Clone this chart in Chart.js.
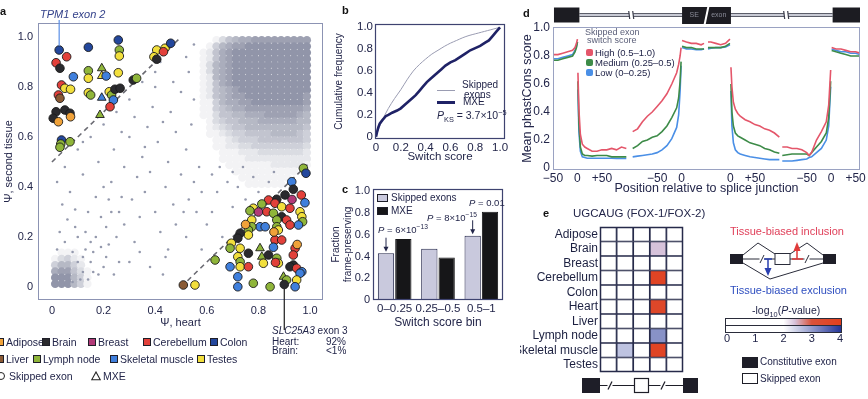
<!DOCTYPE html>
<html>
<head>
<meta charset="utf-8">
<script src="https://cdn.jsdelivr.net/npm/chart.js@4.4.1/dist/chart.umd.min.js"></script>
<style>
  body { margin: 0; width: 868px; height: 399px; overflow: hidden; position: relative; background: #fff;
         font-family: "Liberation Sans", Arial, sans-serif; color: #23264a; }
  canvas { position: absolute; }
  .t { position: absolute; white-space: nowrap; line-height: 1; }
  .sq { position: absolute; width: 8px; height: 8px; border: 1px solid #1e1e28; box-sizing: border-box; }
  .lab { position: absolute; font-weight: bold; font-size: 11px; line-height: 1; color: #111; }
  sub, sup { font-size: 70%; line-height: 0; }
</style>
</head>
<body>

<canvas id="chartA" width="340" height="340" style="left:0;top:0"></canvas>
<canvas id="chartB" width="195" height="165" style="left:330px;top:0"></canvas>
<canvas id="chartC" width="195" height="175" style="left:330px;top:160px"></canvas>
<canvas id="chartD" width="348" height="199" style="left:520px;top:0"></canvas>
<canvas id="chartE" width="348" height="194" style="left:520px;top:205px"></canvas>

<!-- panel letters -->
<div class="lab" style="left:0;top:6px">a</div>
<div class="lab" style="left:342px;top:5px">b</div>
<div class="lab" style="left:342px;top:184px">c</div>
<div class="lab" style="left:523px;top:8px">d</div>
<div class="lab" style="left:543px;top:208px">e</div>

<!-- panel a texts -->
<div class="t" style="left:40px;top:9px;font-size:11px;font-style:italic;color:#33418a">TPM1 exon 2</div>
<div id="legendA"></div>
<div style="position:absolute;left:-3px;top:372px;width:8px;height:8px;border:1.2px solid #222;border-radius:50%;box-sizing:border-box;background:#fff"></div>
<div class="t" style="left:9px;top:371px;font-size:10.5px">Skipped exon</div>
<svg style="position:absolute;left:91px;top:371px" width="10" height="10"><polygon points="5,1 9.3,8.8 0.7,8.8" fill="#fff" stroke="#222" stroke-width="1.1"/></svg>
<div class="t" style="left:103px;top:371px;font-size:10.5px">MXE</div>
<div class="t" style="left:272px;top:326px;font-size:10px"><i>SLC25A3</i> exon 3</div>
<div class="t" style="left:272px;top:336.5px;font-size:10px">Heart:</div>
<div class="t" style="left:326px;top:336.5px;font-size:10px">92%</div>
<div class="t" style="left:272px;top:346px;font-size:10px">Brain:</div>
<div class="t" style="left:326px;top:346px;font-size:10px">&lt;1%</div>

<!-- panel b texts -->
<div style="position:absolute;left:437px;top:90px;width:18px;height:1px;background:#9a9cb2"></div>
<div class="t" style="left:462px;top:80px;font-size:10px">Skipped</div>
<div class="t" style="left:464px;top:89.5px;font-size:10px">exons</div>
<div style="position:absolute;left:437px;top:100.5px;width:18px;height:3px;background:#1f2266"></div>
<div class="t" style="left:463px;top:97px;font-size:10px">MXE</div>
<div class="t" style="left:437px;top:110px;font-size:10.5px"><i>P</i><sub>KS</sub> = 3.7×10<sup>−5</sup></div>

<!-- panel c texts -->
<div class="sq" style="left:377px;top:194px;width:11px;height:8px;background:#c9c9dd"></div>
<div class="t" style="left:391px;top:193px;font-size:10px">Skipped exons</div>
<div class="sq" style="left:377px;top:207px;width:11px;height:8px;background:#161618"></div>
<div class="t" style="left:391px;top:206px;font-size:10px">MXE</div>
<div class="t" style="left:378px;top:225px;font-size:9.5px"><i>P</i> = 6×10<sup>−13</sup></div>
<div class="t" style="left:427px;top:213px;font-size:9.5px"><i>P</i> = 8×10<sup>−15</sup></div>
<div class="t" style="left:469px;top:198px;font-size:9.5px"><i>P</i> = 0.01</div>

<!-- panel d legend -->
<div class="t" style="left:585px;top:28px;font-size:9px;color:#5a5e78">Skipped exon</div>
<div class="t" style="left:587px;top:36px;font-size:9px;color:#5a5e78">switch score</div>
<div style="position:absolute;left:586px;top:48.5px;width:7px;height:7px;border-radius:2px;background:#e4566a"></div>
<div class="t" style="left:595px;top:47.5px;font-size:9.5px">High (0.5–1.0)</div>
<div style="position:absolute;left:586px;top:58.5px;width:7px;height:7px;border-radius:2px;background:#3d8b48"></div>
<div class="t" style="left:595px;top:57.5px;font-size:9.5px">Medium (0.25–0.5)</div>
<div style="position:absolute;left:586px;top:68.5px;width:7px;height:7px;border-radius:2px;background:#4a8fe6"></div>
<div class="t" style="left:595px;top:67.5px;font-size:9.5px">Low (0–0.25)</div>

<!-- panel e texts -->
<div class="t" style="left:573px;top:208px;font-size:11.5px">UGCAUG (FOX-1/FOX-2)</div>
<div class="t" style="left:730px;top:225.5px;font-size:11px;color:#e0405a">Tissue-biased inclusion</div>
<div class="t" style="left:730px;top:284.5px;font-size:11px;color:#2f4fc0">Tissue-biased exclusion</div>
<div class="t" style="left:752px;top:304.5px;font-size:10.5px">-log<sub>10</sub>(<i>P</i>-value)</div>
<div class="sq" style="left:742px;top:357px;width:16px;height:11px;background:#1e1e28"></div>
<div class="t" style="left:760px;top:357px;font-size:10px">Constitutive exon</div>
<div class="sq" style="left:742px;top:373px;width:16px;height:11px;background:#fff"></div>
<div class="t" style="left:760px;top:374px;font-size:10px">Skipped exon</div>

<script>
Chart.defaults.font.family = '"Liberation Sans", Arial, sans-serif';
Chart.defaults.color = '#23264a';
Chart.defaults.animation = false;
Chart.defaults.responsive = false;
Chart.defaults.plugins.legend.display = false;
Chart.defaults.plugins.tooltip.enabled = false;


// ---------- panel a : psi heart vs psi second tissue ----------

const tissues = ['Adipose', 'Brain', 'Breast', 'Cerebellum', 'Colon',
                 'Liver', 'Lymph node', 'Skeletal muscle', 'Testes'];
const tissueColors = ['#f0a23a', '#2a2a2e', '#b23a78', '#e2403a', '#23479c',
                      '#8a5a34', '#8fb53a', '#3f7fdc', '#f2df3c'];
const aTicks = [0, 0.2, 0.4, 0.6, 0.8, 1.0];
const switchCut = 0.5;

// tissue-switching exons (tissue index, 1 = MXE)
const aX = [0.028,0.057,0.016,0.031,0.141,0.083,0.141,0.141,0.193,0.193,0.21,0.257,0.261,0.261,0.257,0.037,0.05,0.072,0.025,0.031,
            0.141,0.15,0.193,0.222,0.231,0.238,0.225,0.244,0.264,0.315,0.328,0.016,0.005,0.025,0.05,0.07,0.072,0.186,0.037,0.034,
            0.031,0.07,0.406,0.395,0.406,0.438,0.432,0.46,
            0.509,0.554,0.974,0.984,0.929,0.935,0.966,0.903,0.871,0.839,0.864,0.813,0.78,0.767,0.89,0.922,0.98,0.832,0.858,0.961,
            0.968,0.971,0.955,0.89,0.909,0.871,0.806,0.826,0.871,0.877,0.922,0.774,0.774,0.761,0.761,0.729,0.72,0.695,0.69,0.729,
            0.864,0.89,0.858,0.942,0.935,0.761,0.806,0.813,0.839,0.871,0.877,0.866,0.72,0.729,0.729,0.761,0.69,0.632,0.935,0.922,
            0.948,0.968,0.961,0.897,0.909,0.948,0.942,0.72,0.72,0.78,0.845,0.819,0.80,0.93,0.86,0.75,0.95,0.90];
const aY = [0.948,0.921,0.897,0.875,0.959,0.841,0.865,0.835,0.875,0.844,0.844,0.988,0.948,0.924,0.857,0.808,0.795,0.791,0.768,0.755,
            0.777,0.768,0.757,0.781,0.768,0.748,0.721,0.791,0.795,0.828,0.835,0.701,0.675,0.661,0.708,0.695,0.681,0.688,0.588,0.572,
            0.559,0.581,0.948,0.921,0.911,0.955,0.941,0.975,
            0.008,0.008,0.475,0.455,0.421,0.391,0.368,0.368,0.351,0.348,0.335,0.332,0.315,0.305,0.321,0.315,0.337,0.301,0.295,0.301,
            0.281,0.261,0.248,0.281,0.268,0.268,0.241,0.241,0.241,0.228,0.248,0.268,0.241,0.228,0.208,0.215,0.195,0.175,0.155,0.155,
            0.188,0.188,0.159,0.155,0.128,0.135,0.155,0.121,0.128,0.115,0.095,0.098,0.121,0.101,0.081,0.081,0.081,0.108,0.088,0.081,
            0.075,0.061,0.055,0.041,0.028,0.028,0.001,0.041,0.001,0.015,0.001,0.095,0.30,0.35,0.22,0.25,0.17,0.01];
const aTis = [4,3,3,1,4,7,6,8,6,8,7,4,6,8,8,3,8,8,3,5,
              8,6,7,8,6,7,3,1,1,1,6,1,1,0,1,1,0,6,4,6,
              6,6,8,8,1,8,3,4,
              5,8,6,4,7,1,3,1,1,3,3,6,8,6,8,3,7,3,6,8,
              8,6,7,1,3,6,7,7,6,8,3,8,6,6,8,1,1,8,6,8,
              3,3,7,3,3,1,6,6,1,6,8,3,8,6,8,3,7,6,1,1,
              3,7,7,6,6,8,7,7,7,6,6,8,2,2,0,0,0,1];
const aMxe = [0,0,0,0,0,0,0,0,1,1,0,0,0,0,0,0,0,0,0,0,
              0,0,1,0,0,0,0,0,0,0,0,0,0,0,0,0,0,1,0,0,
              0,0,0,0,0,0,0,0,
              0,0,0,0,0,0,0,0,0,0,0,0,0,0,0,0,0,0,0,0,
              0,0,0,0,0,0,0,0,0,0,0,0,0,0,0,0,0,0,0,0,
              0,0,0,0,0,0,1,1,0,0,0,0,0,0,0,0,0,0,0,0,
              0,0,0,1,0,0,0,0,0,0,0,0,0,0,0,0,0,0];
const tpmIndex = 0;
const slcIndex = aX.length - 1;

// density of all other exons, read on a 0.025 grid (0 = empty, 9 = darkest)
const cloudRows = [
  '00000135677888888888',
  '00001467889999999999',
  '00012578999999999999',
  '00012578999999999999',
  '00013678999999999999',
  '00013678999999999999',
  '00012678999999999999',
  '00012578999999999999',
  '00012567899999999999',
  '00012567889999999998',
  '00011467788999999998',
  '00011456778888888887',
  '00011355667778888876',
  '00001345566677777766',
  '00001234556666666665',
  '00001123445555666654',
  '00000112344455555554',
  '00000112233444444443',
  '00000011122233333332',
  '00000011112222222222',
  '00000001111111222221',
  '00000000111111111100',
  '00000000011111111000',
  '00000000001111110000'
];
const clusterRows = [
  '011100',
  '134210',
  '466420',
  '788531',
  '999641',
  '999641'
];
const sparsePts = [
  [0.02,0.15],[0.05,0.18],[0.08,0.14],[0.03,0.22],[0.06,0.27],[0.10,0.20],[0.04,0.33],[0.07,0.38],[0.02,0.42],[0.09,0.31],[0.12,0.45],[0.05,0.48],
  [0.15,0.10],[0.16,0.14],[0.17,0.20],[0.18,0.05],[0.20,0.08],[0.21,0.12],[0.22,0.17],[0.21,0.24],[0.23,0.30],[0.22,0.35],[0.20,0.40],[0.24,0.05],
  [0.25,0.20],[0.19,0.28],[0.14,0.30],[0.13,0.22],[0.26,0.10],[0.27,0.36],[0.28,0.25],[0.18,0.50],[0.24,0.55],[0.30,0.60],[0.28,0.48],[0.33,0.44],
  [0.30,0.10],[0.32,0.18],[0.34,0.28],[0.36,0.38],[0.35,0.52],[0.38,0.46],[0.40,0.30],[0.42,0.22],[0.41,0.58],[0.44,0.40],[0.45,0.50],[0.47,0.33],
  [0.48,0.62],[0.46,0.70],[0.43,0.66],[0.39,0.72],[0.37,0.64],[0.50,0.45],[0.50,0.78],[0.47,0.82],[0.45,0.15],[0.38,0.08],[0.43,0.05],[0.48,0.25],
  [0.52,0.20],[0.53,0.35],[0.55,0.42],[0.52,0.55],[0.54,0.65],[0.55,0.75],[0.53,0.86],[0.56,0.30],[0.58,0.38],[0.57,0.48],[0.58,0.15],[0.52,0.92],
  [0.55,0.97],[0.62,0.30],[0.64,0.38],[0.66,0.20],[0.68,0.42],[0.70,0.32],[0.72,0.40],[0.75,0.35],[0.78,0.44],[0.80,0.38],[0.84,0.42],[0.86,0.46],
  [0.62,0.45],[0.60,0.25],[0.65,0.48],[0.70,0.46],[0.74,0.48],[0.08,0.02],[0.12,0.06],[0.14,0.03],[0.12,0.12],[0.10,0.10],[0.15,0.18],[0.16,0.06],
  [0.13,0.15],[0.11,0.03],[0.10,0.55],[0.15,0.60],[0.20,0.65],[0.25,0.70],[0.12,0.58],[0.30,0.75],[0.35,0.82],[0.40,0.86],[0.42,0.90],[0.32,0.68],
  [0.27,0.62],[0.36,0.56],[0.40,0.80],[0.23,0.42],[0.19,0.16],[0.26,0.30],[0.31,0.35],[0.17,0.36],[0.09,0.24],[0.44,0.12],[0.51,0.30],[0.34,0.14]
];


// ---------- panel b : cumulative switch score ----------

const cdfTicks = [0, 0.2, 0.4, 0.6, 0.8, 1.0];
const skipX = [0,0.02,0.05,0.1,0.15,0.2,0.25,0.3,0.35,0.4,0.45,0.5,0.55,0.6,0.65,0.7,0.75,0.8,0.85,0.9,0.95,1.0];
const skipY = [0,0.07,0.15,0.26,0.35,0.43,0.52,0.60,0.66,0.71,0.755,0.79,0.825,0.855,0.88,0.905,0.925,0.94,0.955,0.97,0.985,1.0];
const mxeX = [0,0.01,0.02,0.03,0.05,0.08,0.1,0.13,0.17,0.2,0.23,0.26,0.29,0.32,0.35,0.38,0.41,0.44,0.47,
              0.5,0.53,0.56,0.6,0.64,0.68,0.72,0.76,0.8,0.84,0.88,0.91,0.94,0.97,1.0];
const mxeY = [0,0.05,0.09,0.12,0.15,0.19,0.2,0.22,0.24,0.26,0.29,0.32,0.35,0.38,0.42,0.46,0.5,0.53,0.56,
              0.59,0.62,0.65,0.68,0.70,0.73,0.76,0.79,0.81,0.83,0.86,0.88,0.92,0.96,1.0];


// ---------- panel c : frame preservation ----------

const binLabels = ['0–0.25', '0.25–0.5', '0.5–1'];
const frameSkipped = [0.43, 0.47, 0.59];
const frameMxe = [0.56, 0.39, 0.81];
const fracTicks = [0, 0.2, 0.4, 0.6, 0.8, 1.0];
const arrowBins = [0, 2];


// ---------- panel d : phastCons around splice junctions ----------

// segments: upstream exon end, intron start, intron end, skipped exon (two halves),
// downstream intron start, intron end, downstream exon start
const segOffset = [50, 50, 263, 263, 363, 363, 569, 569];
const segPos = [
  [-50,-40,-30,-20,-10,-5,-2,0],
  [1,3,6,10,15,20,30,40,50,60,70,80,90,100],
  [-100,-90,-80,-70,-60,-50,-40,-30,-20,-10,-6,-3,-1],
  [1,10,20,30,40,46],
  [-46,-40,-30,-20,-10,-1],
  [1,3,6,10,15,20,30,40,50,60,70,80,90,100],
  [-100,-90,-80,-70,-60,-50,-45,-40,-30,-20,-10,-5,-1],
  [1,10,20,30,40,50,59]
];
const phHigh = [
  [0.81,0.81,0.82,0.83,0.84,0.86,0.89,0.92],
  [0.68,0.42,0.24,0.17,0.15,0.14,0.12,0.12,0.13,0.13,0.14,0.13,0.15,0.14],
  [0.26,0.28,0.33,0.37,0.40,0.44,0.48,0.53,0.60,0.68,0.74,0.80,0.86],
  [0.91,0.90,0.89,0.89,0.88,0.89],
  [0.90,0.90,0.89,0.88,0.89,0.92],
  [0.72,0.58,0.47,0.42,0.39,0.37,0.345,0.33,0.31,0.30,0.28,0.27,0.25,0.22],
  [0.15,0.15,0.14,0.14,0.13,0.11,0.09,0.11,0.20,0.26,0.33,0.45,0.70],
  [0.86,0.85,0.85,0.84,0.83,0.83,0.82]
];
const phMedium = [
  [0.77,0.77,0.78,0.79,0.80,0.83,0.86,0.90],
  [0.62,0.32,0.15,0.10,0.09,0.09,0.085,0.09,0.09,0.09,0.08,0.08,0.08,0.08],
  [0.14,0.16,0.19,0.20,0.22,0.23,0.26,0.30,0.36,0.43,0.50,0.62,0.76],
  [0.87,0.86,0.86,0.85,0.85,0.85],
  [0.86,0.86,0.86,0.86,0.87,0.89],
  [0.60,0.40,0.30,0.25,0.23,0.22,0.20,0.18,0.17,0.16,0.14,0.13,0.115,0.105],
  [0.09,0.095,0.10,0.10,0.10,0.10,0.09,0.11,0.15,0.19,0.25,0.36,0.62],
  [0.84,0.83,0.82,0.81,0.80,0.80,0.80]
];
const phLow = [
  [0.78,0.78,0.79,0.80,0.81,0.84,0.87,0.90],
  [0.56,0.26,0.12,0.08,0.075,0.07,0.07,0.07,0.07,0.07,0.07,0.068,0.068,0.068],
  [0.08,0.085,0.09,0.095,0.10,0.11,0.13,0.16,0.21,0.29,0.38,0.55,0.73],
  [0.86,0.85,0.85,0.845,0.845,0.85],
  [0.85,0.855,0.86,0.86,0.865,0.88],
  [0.55,0.30,0.18,0.13,0.11,0.10,0.09,0.08,0.075,0.07,0.065,0.06,0.06,0.06],
  [0.05,0.05,0.05,0.055,0.06,0.065,0.075,0.08,0.11,0.14,0.20,0.30,0.58],
  [0.85,0.84,0.83,0.83,0.82,0.82,0.81]
];
const dTickVals = [-50, 0, 50, -50, 0, 0, 50, -50, 0, 50];
const dTickOffset = [50, 50, 50, 263, 263, 363, 363, 569, 569, 569];
const phTicks = [0, 0.2, 0.4, 0.6, 0.8, 1.0];


// ---------- panel e : UGCAUG enrichment ----------

const eTissues = ['Adipose', 'Brain', 'Breast', 'Cerebellum', 'Colon', 'Heart',
                  'Liver', 'Lymph node', 'Skeletal muscle', 'Testes'];
// signed -log10(P): + inclusion, - exclusion ; 5 intron/exon regions
const eScores = [
  [0, 0, 0, 0, 0],
  [0, 0, 0, 2.4, 0],
  [0, 0, 0, 0, 0],
  [0, 0, 0, 3.8, 0],
  [0, 0, 0, 0, 0],
  [0, 0, 0, 3.6, 0],
  [0, 0, 0, 0, 0],
  [0, 0, 0, -3.1, 0],
  [0, -2.6, 0, 3.8, 0],
  [0, 0, 0, 0, 0]
];
const cbTicks = [0, 1, 2, 3, 4];
const incStops = [[0, '#ffffff'], [2, '#ffffff'], [2.4, '#d6c2da'], [3, '#d9523a'], [4, '#e2401e']];
const excStops = [[0, '#ffffff'], [2, '#ffffff'], [4, '#27389a']];


// ---------- helpers ----------

function fixedTicks(values) {
    return scale => { scale.ticks = values.map(v => ({ value: v })); };
}

function fmt(v) {
    return v === 0 ? '0' : v.toFixed(1);
}

function mixHex(a, b, t) {
    const pa = [1, 3, 5].map(i => parseInt(a.substr(i, 2), 16));
    const pb = [1, 3, 5].map(i => parseInt(b.substr(i, 2), 16));
    return 'rgb(' + pa.map((v, k) => Math.round(v + (pb[k] - v) * t)).join(',') + ')';
}

function rampColor(stops, v) {
    if (v <= stops[0][0]) return stops[0][1];
    for (let i = 1; i < stops.length; i++) {
        if (v <= stops[i][0]) {
            const t = (v - stops[i - 1][0]) / (stops[i][0] - stops[i - 1][0]);
            return mixHex(stops[i - 1][1], stops[i][1], t);
        }
    }
    return stops[stops.length - 1][1];
}

function heatColor(v) {
    return v >= 0 ? rampColor(incStops, v) : rampColor(excStops, -v);
}

function shade(d) {
    return mixHex('#ffffff', '#767b93', d / 9 * 0.8);
}

function gridPoints(rows, x0, y0, step) {
    const pts = [];
    rows.forEach((row, j) => {
        [...row].forEach((ch, i) => {
            if (+ch > 0) pts.push({ x: x0 + i * step, y: y0 - j * step, d: +ch });
        });
    });
    return pts;
}

const frame = {
    id: 'frame',
    afterDatasetsDraw(chart, args, opts) {
        const a = chart.chartArea, c = chart.ctx;
        c.save();
        c.strokeStyle = opts.color || '#555';
        c.lineWidth = opts.width || 1;
        c.strokeRect(a.left + 0.5, a.top + 0.5, a.right - a.left - 1, a.bottom - a.top - 1);
        c.restore();
    }
};
Chart.register(frame);


// legend of panel a
const legendSlots = [[-4, 342], [42, 342], [88, 342], [143, 342], [210, 342],
                     [-4, 359], [33, 359], [110, 359], [197, 359]];
const legA = document.getElementById('legendA');
tissues.forEach((name, i) => {
    const [x, cy] = legendSlots[i];
    legA.insertAdjacentHTML('beforeend',
        `<div class="sq" style="left:${x}px;top:${cy - 4}px;background:${tissueColors[i]}"></div>` +
        `<div class="t" style="left:${x + 10}px;top:${cy - 5}px;font-size:10.5px">${name}</div>`);
});


// PANEL A

const cloudPts = gridPoints(cloudRows, 0.5125, 0.9875, 0.025);
const clusterPts = gridPoints(clusterRows, 0.0125, 0.1375, 0.025);

const calloutA = {
    id: 'calloutA',
    afterDatasetsDraw(chart) {
        const c = chart.ctx, xs = chart.scales.x, ys = chart.scales.y;
        c.save();
        c.lineWidth = 1.2;
        let x = xs.getPixelForValue(aX[tpmIndex]), y = ys.getPixelForValue(aY[tpmIndex]);
        c.strokeStyle = '#5b8fe6';
        c.beginPath(); c.moveTo(x, 20); c.lineTo(x, y - 4); c.stroke();
        x = xs.getPixelForValue(aX[slcIndex]); y = ys.getPixelForValue(aY[slcIndex]);
        c.strokeStyle = '#1b1b1b';
        c.beginPath(); c.moveTo(x, y + 4); c.lineTo(x, 330); c.stroke();
        c.restore();
    }
};

new Chart(document.getElementById('chartA'), {
    type: 'scatter',
    data: {
        datasets: [
            {
                data: aX.map((x, i) => ({ x: x, y: aY[i] })),
                backgroundColor: aTis.map(t => tissueColors[t]),
                pointStyle: aMxe.map(m => m ? 'triangle' : 'circle'),
                pointRadius: aMxe.map(m => m ? 5 : 4.3),
                borderColor: '#1b1b1b',
                borderWidth: 0.9
            },
            {
                data: [{ x: 0, y: switchCut }, { x: 1 - switchCut, y: 1 }],
                showLine: true, pointRadius: 0,
                borderColor: '#6a6a72', borderWidth: 1.6, borderDash: [5, 4]
            },
            {
                data: [{ x: switchCut, y: 0 }, { x: 1, y: 1 - switchCut }],
                showLine: true, pointRadius: 0,
                borderColor: '#6a6a72', borderWidth: 1.6, borderDash: [5, 4]
            },
            {
                data: sparsePts.map(p => ({ x: p[0], y: p[1] })),
                backgroundColor: '#9499ad', borderWidth: 0, pointRadius: 1.3
            },
            {
                data: clusterPts,
                backgroundColor: clusterPts.map(p => shade(p.d)),
                pointStyle: 'circle', pointRadius: 4.2, borderWidth: 0
            },
            {
                data: cloudPts,
                backgroundColor: cloudPts.map(p => shade(p.d)),
                pointStyle: 'circle', pointRadius: 4.2, borderWidth: 0
            }
        ]
    },
    options: {
        layout: { padding: { left: 0, top: 23, right: 17, bottom: 0 } },
        scales: {
            x: {
                type: 'linear', min: -0.054, max: 1.05,
                afterBuildTicks: fixedTicks(aTicks),
                afterFit: s => { s.height = 40; },
                grid: { display: false, drawTicks: false },
                border: { display: false },
                ticks: { padding: 4, callback: fmt, font: { size: 11 } },
                title: { display: true, text: 'Ψ, heart', font: { size: 11 }, padding: { top: 0, bottom: 10 } }
            },
            y: {
                min: -0.052, max: 1.056,
                afterBuildTicks: fixedTicks(aTicks),
                afterFit: s => { s.width = 38; },
                grid: { display: false, drawTicks: false },
                border: { display: false },
                ticks: { padding: 5, callback: fmt, font: { size: 11 } },
                title: { display: true, text: 'Ψ, second tissue', font: { size: 11 }, padding: { top: 2, bottom: 0 } }
            }
        },
        plugins: { frame: { color: '#8c93b3' } }
    },
    plugins: [calloutA]
});


// PANEL B

new Chart(document.getElementById('chartB'), {
    type: 'scatter',
    data: {
        datasets: [
            {
                data: mxeX.map((x, i) => ({ x: x, y: mxeY[i] })),
                showLine: true, pointRadius: 0,
                borderColor: '#1f2266', borderWidth: 2.6
            },
            {
                data: skipX.map((x, i) => ({ x: x, y: skipY[i] })),
                showLine: true, pointRadius: 0, tension: 0.3,
                borderColor: '#9a9cb2', borderWidth: 1
            }
        ]
    },
    options: {
        layout: { padding: { left: 0, top: 24, right: 20, bottom: 0 } },
        scales: {
            x: {
                type: 'linear', min: -0.008, max: 1.04,
                afterBuildTicks: fixedTicks(cdfTicks),
                afterFit: s => { s.height = 26; },
                grid: { display: false, drawTicks: false },
                border: { display: false },
                ticks: { padding: 2, callback: fmt, font: { size: 11.5 } },
                title: { display: true, text: 'Switch score', font: { size: 11.5 }, padding: { top: 0, bottom: 1 } }
            },
            y: {
                min: -0.02, max: 1.03,
                afterBuildTicks: fixedTicks(cdfTicks),
                afterFit: s => { s.width = 45; },
                grid: { display: false, drawTicks: false },
                border: { display: false },
                ticks: { padding: 2, callback: fmt, font: { size: 11.5 } },
                title: { display: true, text: 'Cumulative frequency', font: { size: 10 }, padding: { top: 3, bottom: 0 } }
            }
        },
        plugins: { frame: { color: '#3e4370', width: 1.2 } }
    }
});


// PANEL C

const arrowsC = {
    id: 'arrowsC',
    afterDatasetsDraw(chart) {
        const c = chart.ctx, meta = chart.getDatasetMeta(0);
        c.save();
        c.strokeStyle = '#23264a'; c.fillStyle = '#23264a'; c.lineWidth = 1;
        arrowBins.forEach(b => {
            const bar = meta.data[b];
            const tip = bar.y - 1.5;
            c.beginPath(); c.moveTo(bar.x, tip - 14); c.lineTo(bar.x, tip - 3); c.stroke();
            c.beginPath(); c.moveTo(bar.x, tip); c.lineTo(bar.x - 2.5, tip - 5); c.lineTo(bar.x + 2.5, tip - 5);
            c.closePath(); c.fill();
        });
        c.restore();
    }
};

new Chart(document.getElementById('chartC'), {
    type: 'bar',
    data: {
        labels: binLabels,
        datasets: [
            {
                label: 'Skipped exons', data: frameSkipped,
                backgroundColor: '#c9c9dd', borderColor: '#23264a', borderWidth: 1,
                categoryPercentage: 0.8, barPercentage: 0.94
            },
            {
                label: 'MXE', data: frameMxe,
                backgroundColor: '#161618', borderColor: '#161618', borderWidth: 1,
                categoryPercentage: 0.8, barPercentage: 0.94
            }
        ]
    },
    options: {
        layout: { padding: { left: 0, top: 29, right: 22, bottom: 0 } },
        scales: {
            x: {
                afterFit: s => { s.height = 35; },
                grid: { display: false, drawTicks: false },
                border: { display: false },
                ticks: { padding: 2, font: { size: 11.5 }, maxRotation: 0, minRotation: 0, autoSkip: false },
                title: { display: true, text: 'Switch score bin', font: { size: 12 }, padding: { top: 0, bottom: 5 } }
            },
            y: {
                min: 0, max: 1.02,
                afterBuildTicks: fixedTicks(fracTicks),
                afterFit: s => { s.width = 43; },
                grid: { display: false, drawTicks: false },
                border: { display: false },
                ticks: { padding: 3, callback: fmt, font: { size: 11 } },
                title: { display: true, text: ['Fraction', 'frame-preserving'], font: { size: 10 }, padding: { top: 0, bottom: 0 } }
            }
        },
        plugins: { frame: { color: '#3e4370', width: 1.2 } }
    },
    plugins: [arrowsC]
});


// PANEL D

function phSeries(vals) {
    const pts = [];
    segPos.forEach((pos, s) => {
        pos.forEach((p, i) => pts.push({ x: segOffset[s] + p, y: vals[s][i] }));
        pts.push({ x: segOffset[s] + pos[pos.length - 1] + 0.5, y: null });
    });
    return pts;
}

const exonSpans = [[2, 54], [264, 364], [572, 628]];
const intronBreaks = [160, 477];

const geneSketch = {
    id: 'geneSketch',
    afterDraw(chart) {
        const c = chart.ctx, xs = chart.scales.x;
        const px = u => xs.getPixelForValue(u);
        const y = 15;
        c.save();
        const x0 = px(exonSpans[0][1]), x1 = px(exonSpans[2][0]);
        c.fillStyle = '#c8cad4';
        c.fillRect(x0, y - 1.5, x1 - x0, 3);
        c.strokeStyle = '#3a3c4a'; c.lineWidth = 0.8;
        c.beginPath();
        c.moveTo(x0, y - 1.5); c.lineTo(x1, y - 1.5);
        c.moveTo(x0, y + 1.5); c.lineTo(x1, y + 1.5);
        c.stroke();
        intronBreaks.forEach(u => {
            const bx = px(u);
            c.fillStyle = '#fff'; c.fillRect(bx - 2, y - 4, 4, 8);
            c.strokeStyle = '#3a3c4a'; c.lineWidth = 1.2;
            c.beginPath();
            c.moveTo(bx - 2.5, y - 4); c.lineTo(bx - 1.5, y + 4);
            c.moveTo(bx + 1.5, y - 4); c.lineTo(bx + 2.5, y + 4);
            c.stroke();
        });
        c.fillStyle = '#1c1c22';
        exonSpans.forEach(([a, b], k) => {
            c.fillRect(px(a), k === 1 ? y - 8 : y - 7.5, px(b) - px(a), k === 1 ? 17 : 15);
        });
        // break through the skipped exon
        const mid = px((exonSpans[1][0] + exonSpans[1][1]) / 2);
        c.strokeStyle = '#fff'; c.lineWidth = 2;
        c.beginPath(); c.moveTo(mid + 2, y - 9); c.lineTo(mid - 2, y + 10); c.stroke();
        c.fillStyle = '#8a8c98'; c.font = '7px "Liberation Sans", Arial, sans-serif';
        c.textBaseline = 'middle'; c.textAlign = 'center';
        c.fillText('SE', (px(exonSpans[1][0]) + mid) / 2, y + 0.5);
        c.fillText('exon', (px(exonSpans[1][1]) + mid) / 2, y + 0.5);
        c.restore();
    }
};

new Chart(document.getElementById('chartD'), {
    type: 'scatter',
    data: {
        datasets: [
            { data: phSeries(phHigh), showLine: true, pointRadius: 0, borderColor: '#e4566a', borderWidth: 1.6 },
            { data: phSeries(phMedium), showLine: true, pointRadius: 0, borderColor: '#3d8b48', borderWidth: 1.6 },
            { data: phSeries(phLow), showLine: true, pointRadius: 0, borderColor: '#4a8fe6', borderWidth: 1.6 }
        ]
    },
    options: {
        layout: { padding: { left: 0, top: 27, right: 8, bottom: 0 } },
        scales: {
            x: {
                type: 'linear', min: 0, max: 628,
                afterBuildTicks: s => { s.ticks = dTickVals.map((v, i) => ({ value: dTickOffset[i] + v })); },
                afterFit: s => { s.height = 29; },
                grid: { display: false, drawTicks: false },
                border: { display: false },
                ticks: {
                    padding: 1, font: { size: 12 }, autoSkip: false, maxRotation: 0,
                    callback: (v, i) => dTickVals[i] > 0 ? '+' + dTickVals[i] : String(dTickVals[i]).replace('-', '−')
                },
                title: { display: true, text: 'Position relative to splice junction', font: { size: 12.5 }, padding: { top: 0, bottom: 3 } }
            },
            y: {
                min: -0.014, max: 1.007,
                afterBuildTicks: fixedTicks(phTicks),
                afterFit: s => { s.width = 33; },
                grid: { display: false, drawTicks: false },
                border: { display: false },
                ticks: { padding: 3, callback: fmt, font: { size: 12 } },
                title: { display: true, text: 'Mean phastCons score', font: { size: 12.5 }, padding: { top: 0, bottom: 0 } }
            }
        },
        plugins: { frame: { color: '#9aa2c2' } }
    },
    plugins: [geneSketch]
});


// PANEL E

function slash(c, x, y) {
    c.save();
    c.fillStyle = '#fff'; c.fillRect(x - 2.5, y - 2, 5, 4);
    c.beginPath(); c.moveTo(x - 2, y + 4); c.lineTo(x + 2, y - 4); c.stroke();
    c.restore();
}

const eDecor = {
    id: 'eDecor',
    afterDraw(chart) {
        const c = chart.ctx, a = chart.chartArea;
        c.save();
        c.strokeStyle = '#1e1e28'; c.lineWidth = 1.2;

        // exon layout under the grid
        const yb = a.bottom + 13.5, mid = (a.left + a.right) / 2;
        c.beginPath(); c.moveTo(a.left, yb); c.lineTo(a.right, yb); c.stroke();
        slash(c, a.left + 10, yb); slash(c, a.right - 20, yb);
        c.fillStyle = '#1e1e28';
        c.fillRect(a.left - 18, yb - 7.5, 18, 15);
        c.fillRect(a.right, yb - 7.5, 15, 15);
        c.fillStyle = '#fff';
        c.fillRect(mid - 7, yb - 7, 14, 14); c.strokeRect(mid - 7, yb - 7, 14, 14);

        // inclusion / exclusion sketch
        c.strokeStyle = '#2a2c3a'; c.lineWidth = 1;
        c.beginPath();
        c.moveTo(223, 54); c.lineTo(255, 54);
        c.moveTo(270, 54); c.lineTo(303, 54);
        c.moveTo(223, 50); c.lineTo(238, 38); c.lineTo(255, 49);
        c.moveTo(270, 49); c.lineTo(287, 38); c.lineTo(303, 50);
        c.moveTo(223, 58); c.lineTo(250, 74); c.lineTo(303, 58);
        c.stroke();
        slash(c, 242, 54); slash(c, 287, 54);
        c.fillStyle = '#1e1e28';
        c.fillRect(210, 49, 13, 10); c.fillRect(303, 49, 13, 10);
        c.fillStyle = '#fff';
        c.fillRect(255, 48.5, 15, 11); c.strokeRect(255, 48.5, 15, 11);

        c.strokeStyle = '#e03a3a'; c.fillStyle = '#e03a3a'; c.lineWidth = 1.5;
        c.beginPath(); c.moveTo(272, 54); c.lineTo(283, 54); c.moveTo(277, 54); c.lineTo(277, 45); c.stroke();
        c.beginPath(); c.moveTo(277, 37); c.lineTo(273.5, 46); c.lineTo(280.5, 46); c.closePath(); c.fill();
        c.strokeStyle = '#2a40b0'; c.fillStyle = '#2a40b0';
        c.beginPath(); c.moveTo(244, 54); c.lineTo(252, 54); c.moveTo(248, 54); c.lineTo(248, 64); c.stroke();
        c.beginPath(); c.moveTo(248, 71); c.lineTo(244.5, 63); c.lineTo(251.5, 63); c.closePath(); c.fill();

        // colour bar
        const cx = v => 207 + v * 28.25;
        const gi = c.createLinearGradient(cx(0), 0, cx(4), 0);
        incStops.forEach(([v, col]) => gi.addColorStop(v / 4, col));
        const ge = c.createLinearGradient(cx(0), 0, cx(4), 0);
        excStops.forEach(([v, col]) => ge.addColorStop(v / 4, col));
        c.fillStyle = gi; c.fillRect(205, 113, 117, 7.5);
        c.fillStyle = ge; c.fillRect(205, 120.5, 117, 7.5);
        c.strokeStyle = '#2a2c3a'; c.lineWidth = 1;
        c.strokeRect(205.5, 113.5, 116, 14);
        c.beginPath(); c.moveTo(205.5, 120.5); c.lineTo(321.5, 120.5); c.stroke();
        c.fillStyle = '#23264a'; c.font = '11px "Liberation Sans", Arial, sans-serif';
        c.textAlign = 'center'; c.textBaseline = 'middle';
        cbTicks.forEach(v => c.fillText(String(v), cx(v), 134));
        c.restore();
    }
};

new Chart(document.getElementById('chartE'), {
    type: 'bar',
    data: {
        labels: eTissues,
        datasets: [0, 1, 2, 3, 4].map(col => ({
            data: eTissues.map(() => 1),
            backgroundColor: eScores.map(r => heatColor(r[col])),
            borderColor: '#262a4a', borderWidth: 1.2, borderSkipped: false,
            barPercentage: 1, categoryPercentage: 1
        }))
    },
    options: {
        indexAxis: 'y',
        layout: { padding: { left: 0, top: 22, right: 185, bottom: 27 } },
        scales: {
            x: { stacked: true, min: 0, max: 5, display: false },
            y: {
                stacked: true,
                afterFit: s => { s.width = 80; },
                grid: { display: false, drawTicks: false },
                border: { display: false },
                ticks: { padding: 2, font: { size: 12 }, color: '#1c2040', autoSkip: false }
            }
        },
        plugins: { frame: { color: '#262a4a', width: 1.5 } }
    },
    plugins: [eDecor]
});
</script>
</body>
</html>
